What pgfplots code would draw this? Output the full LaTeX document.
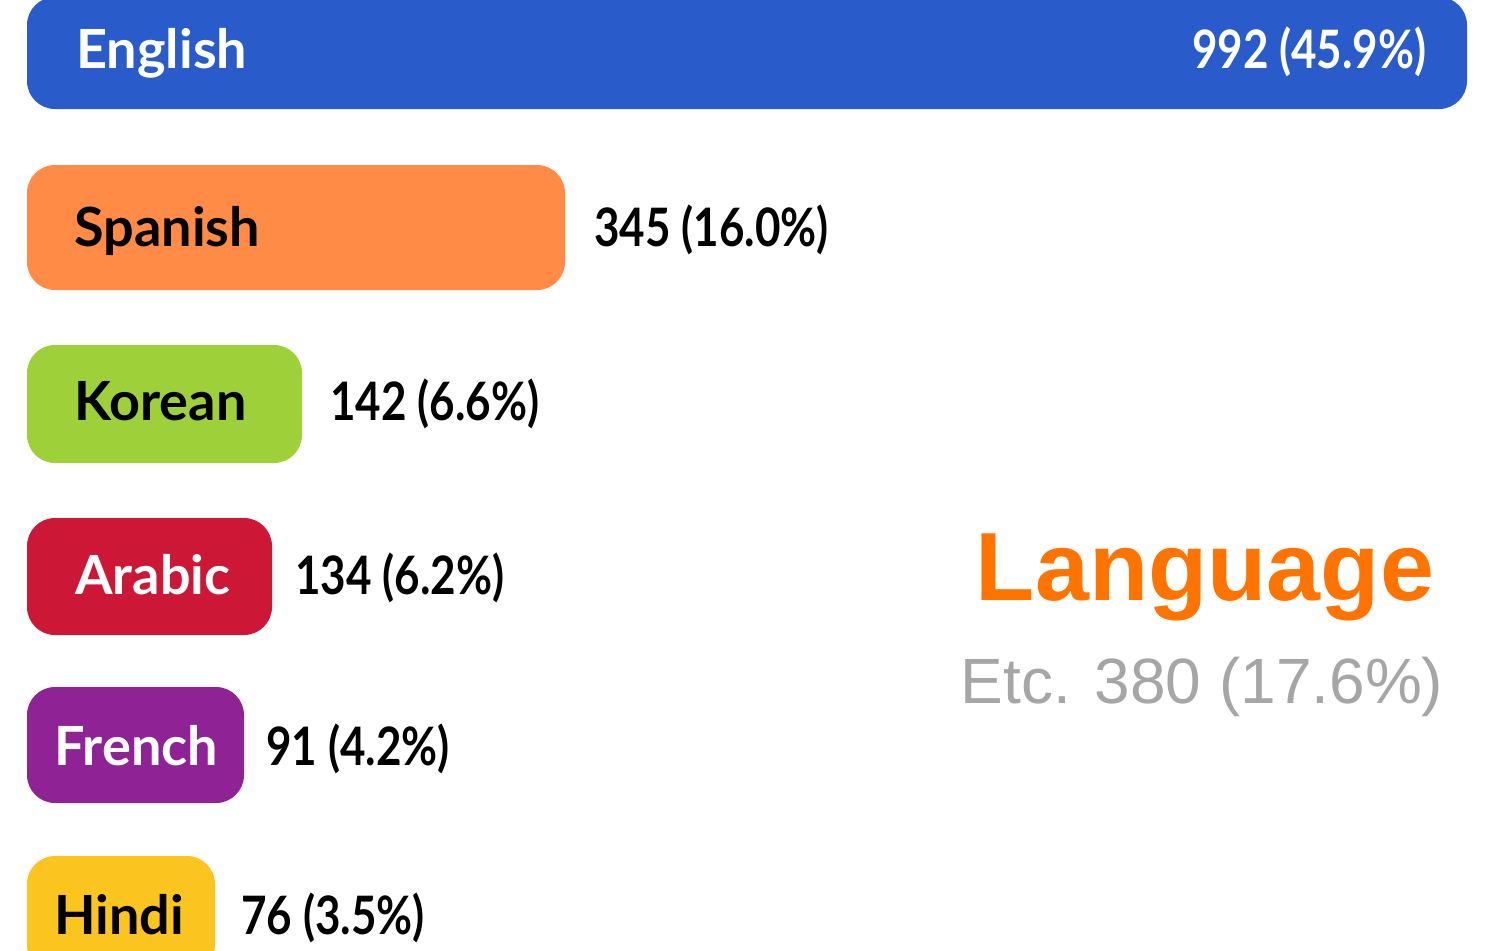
\documentclass[border=0pt]{standalone}
\usepackage{pgfplots}
\pgfplotsset{compat=1.18}
\usepackage{fontspec}
\setmainfont{Liberation Sans}
\newfontfamily\barfont{Lato}
\newfontfamily\valfont{Lato}[FakeStretch=0.83]
\definecolor{cEn}{HTML}{2A5BCB}
\definecolor{cEs}{HTML}{FF8B47}
\definecolor{cKo}{HTML}{9ED03A}
\definecolor{cAr}{HTML}{CC1836}
\definecolor{cFr}{HTML}{8F2396}
\definecolor{cHi}{HTML}{FCC41F}
\definecolor{cTitle}{HTML}{FF7300}
\definecolor{cGray}{HTML}{A6A6A6}
\newcommand{\lblfont}{\barfont\bfseries\fontsize{27}{27}\selectfont}
\newcommand{\vlfont}{\valfont\bfseries\fontsize{26.5}{26.5}\selectfont}
\begin{document}
\begin{tikzpicture}
\path[use as bounding box] (0,0) rectangle (749pt,475pt);
\begin{axis}[
  at={(0,0)}, anchor=south west,
  scale only axis, width=749pt, height=475pt,
  xmin=-27, xmax=1471, ymin=0, ymax=950, y dir=reverse,
  hide axis, clip=true,
  xbar, bar shift=0pt,
  every node near coord/.style={anchor=base west, inner sep=0pt, font=\vlfont, text=black},
]
% bar lengths (px in the picture) ; value labels as text
\addplot[fill=cEn, draw=none, rounded corners=14pt, bar width=112,
  nodes near coords={992 (45.9\%)},
  every node near coord/.append style={anchor=base east, xshift=-20pt, yshift=-7.5pt, text=white}]
  coordinates {(1440,53)};
\addplot[fill=cEs, draw=none, rounded corners=14pt, bar width=125,
  nodes near coords={345 (16.0\%)},
  every node near coord/.append style={xshift=14.5pt, yshift=-9.25pt}]
  coordinates {(538,227.5)};
\addplot[fill=cKo, draw=none, rounded corners=14pt, bar width=118,
  nodes near coords={142 (6.6\%)},
  every node near coord/.append style={xshift=14pt, yshift=-8pt}]
  coordinates {(275,404)};
\addplot[fill=cAr, draw=none, rounded corners=14pt, bar width=117,
  nodes near coords={134 (6.2\%)},
  every node near coord/.append style={xshift=11.5pt, yshift=-8.75pt}]
  coordinates {(245,576.5)};
\addplot[fill=cFr, draw=none, rounded corners=14pt, bar width=116,
  nodes near coords={91 (4.2\%)},
  every node near coord/.append style={xshift=11pt, yshift=-10pt}]
  coordinates {(217,745)};
\addplot[fill=cHi, draw=none, rounded corners=14pt, bar width=117,
  nodes near coords={76 (3.5\%)},
  every node near coord/.append style={xshift=13pt, yshift=-9.75pt}]
  coordinates {(188,914.5)};
% category names inside the bars
\node[anchor=base west, inner sep=0pt, font=\lblfont, text=white] at (axis cs:49,68) {English};
\node[anchor=base west, inner sep=0pt, font=\lblfont, text=black] at (axis cs:47,246) {Spanish};
\node[anchor=base west, inner sep=0pt, font=\lblfont, text=black] at (axis cs:47,420) {Korean};
\node[anchor=base west, inner sep=0pt, font=\lblfont, text=white] at (axis cs:48,594) {Arabic};
\node[anchor=base west, inner sep=0pt, font=\lblfont, text=white] at (axis cs:27,765) {French};
\node[anchor=base west, inner sep=0pt, font=\lblfont, text=black] at (axis cs:27,934) {Hindi};
% title and remainder
\node[anchor=base, inner sep=0pt, font=\bfseries\fontsize{48.5}{48.5}\selectfont, text=cTitle] at (axis cs:1178,600) {Language};
\node[anchor=base, inner sep=0pt, font=\fontsize{32}{32}\selectfont, text=cGray] at (axis cs:1175,703) {Etc. 380 (17.6\%)};
\end{axis}
\end{tikzpicture}
\end{document}
